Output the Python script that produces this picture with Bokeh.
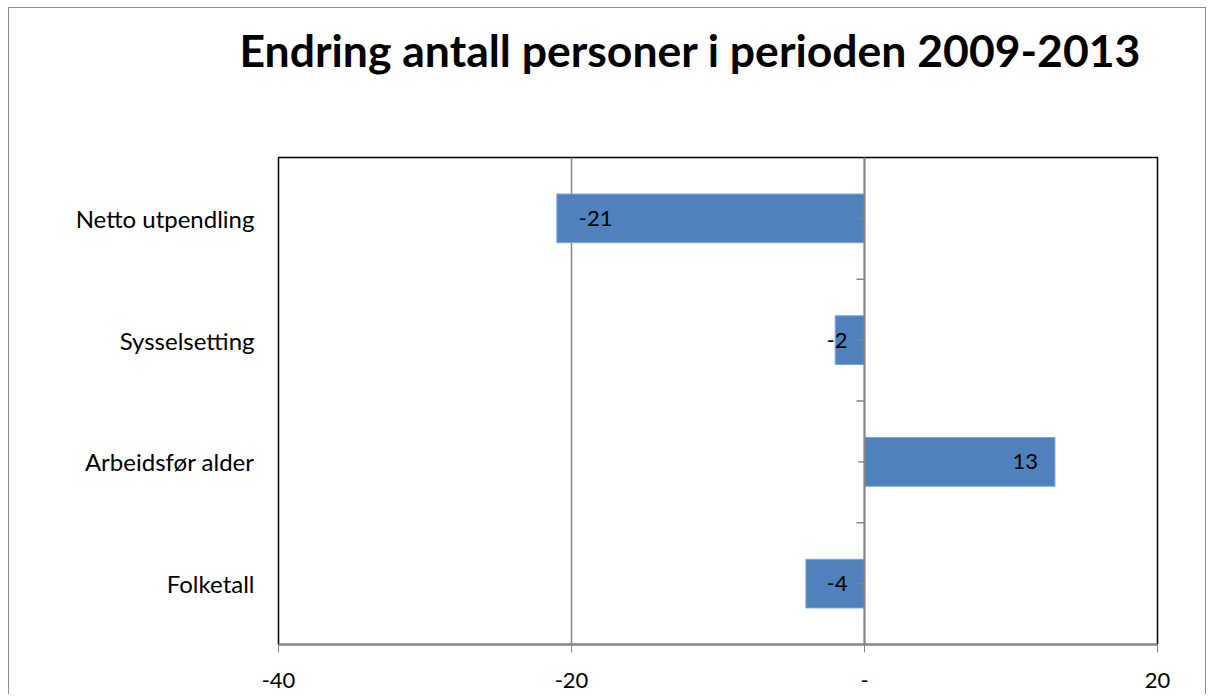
from bokeh.plotting import figure
from bokeh.models import FactorRange, Range1d, FixedTicker, Span, ColumnDataSource, Title
from bokeh.transform import dodge
from bokeh.core.properties import value
from bokeh.embed import file_html
from bokeh.resources import INLINE

categories = ["Netto utpendling", "Sysselsetting", "Arbeidsfør alder", "Folketall"]
values = [-21, -2, 13, -4]
x_ticks = [-40, -20, 0, 20]
x_tick_labels = ["-40", "-20", "-", "20"]
title_text = "Endring antall personer i perioden 2009-2013"

FONT = "Lato"
BAR = "#4F81BD"
GRAY = "#868686"

p = figure(
    width=1196, height=686,
    y_range=FactorRange(factors=list(reversed(categories))),
    x_range=Range1d(-40, 20),
    output_backend="svg", toolbar_location=None,
    frame_width=879, frame_height=487,
    min_border_left=269, min_border_right=48, min_border_top=149, min_border_bottom=50,
)
p.styles = {"margin-left": "8px", "margin-top": "7px",
            "border-left": "1px solid #8c8c8c", "border-top": "1px solid #8c8c8c",
            "border-right": "1px solid #8c8c8c"}

# spacer between frame and title (first added = nearest the frame)
p.add_layout(Title(text=" ", text_font_size="1px", standoff=72), "above")
p.add_layout(Title(text=title_text, align="left", vertical_align="top", text_font=FONT,
                   text_font_style="bold", text_font_size="44.5px", text_color="black",
                   offset=-39, standoff=10), "above")

p.outline_line_color = "black"
p.outline_line_width = 1.5

# grid
p.ygrid.grid_line_color = None
p.xgrid.ticker = FixedTicker(ticks=x_ticks)
p.xgrid.grid_line_color = GRAY
p.xgrid.grid_line_width = 1.5

# bottom axis
p.xaxis.ticker = FixedTicker(ticks=x_ticks)
p.xaxis.major_label_overrides = dict(zip(x_ticks, x_tick_labels))
p.xaxis.axis_line_color = GRAY
p.xaxis.axis_line_width = 2
p.xaxis.major_tick_line_color = GRAY
p.xaxis.major_tick_out = 8
p.xaxis.major_tick_in = 0
p.xaxis.minor_tick_line_color = None
p.xaxis.major_label_standoff = 20
p.xaxis.major_label_text_font = FONT
p.xaxis.major_label_text_font_size = "22px"
p.xaxis.major_label_text_color = "black"

# left axis (labels only)
p.yaxis.axis_line_color = None
p.yaxis.major_tick_line_color = None
p.yaxis.major_tick_in = 0
p.yaxis.major_tick_out = 0
p.yaxis.minor_tick_line_color = None
p.yaxis.major_label_standoff = 24
p.yaxis.major_label_text_font = FONT
p.yaxis.major_label_text_font_size = "24px"
p.yaxis.major_label_text_color = "black"

src = ColumnDataSource(dict(cat=categories, val=values))
p.hbar(y="cat", left=0, right="val", height=0.4, source=src,
       fill_color=BAR, line_color="#7ea6d8", line_width=1)

# vertical value axis at zero
p.add_layout(Span(location=0, dimension="height", line_color=GRAY, line_width=2))
p.segment(x0=-0.42, x1=0, y0=categories, y1=categories, line_color=GRAY, line_width=1.5)
bnd = ColumnDataSource(dict(cat=categories[1:]))
p.segment(x0=-0.55, x1=0, y0=dodge("cat", 0.5, range=p.y_range),
          y1=dodge("cat", 0.5, range=p.y_range), source=bnd, line_color=GRAY, line_width=1.5)

# data labels (inside end, clamped near the axis)
px_per_unit = 879 / 60.0
lx, la, lo = [], [], []
for v in values:
    txt_w = len(str(v)) * 11
    if v >= 0:
        lx.append(v); la.append("right"); lo.append(-17)
    elif v * px_per_unit + 22 + txt_w > -17:
        lx.append(0); la.append("right"); lo.append(-17)
    else:
        lx.append(v); la.append("left"); lo.append(22)
lab = ColumnDataSource(dict(x=lx, y=categories, t=[str(v) for v in values], a=la, o=lo))
p.text(x="x", y="y", text="t", text_align="a", x_offset="o", text_baseline="middle",
       source=lab, text_font=value(FONT), text_font_size="22px", text_color="black")

open("out.html", "w").write(file_html(p, INLINE))
